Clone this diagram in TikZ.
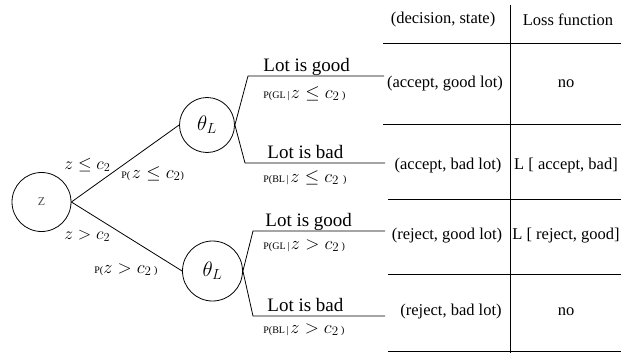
\RequirePackage{fix-cm}
\documentclass[tikz,border=0pt]{standalone}
\usepackage{fontspec}
\setmainfont{Liberation Serif}
\newcommand{\smallP}{\fontsize{10}{12}\selectfont}
\newcommand{\mthA}[1]{{\fontsize{18.5}{19}\selectfont$#1$}}
\newcommand{\mthB}[1]{{\fontsize{17.5}{18}\selectfont$#1$}}
\begin{document}
\begin{tikzpicture}[x=1pt,y=-1pt, line width=0.8pt,
  circ/.style={circle,draw,inner sep=0pt},
  lot/.style={font=\fontsize{19}{20}\selectfont, inner sep=0pt, anchor=base west},
  plab/.style={inner sep=0pt, anchor=base west},
  cell/.style={font=\fontsize{16.5}{18}\selectfont, inner sep=0pt},
  ]
\useasboundingbox (0,0) rectangle (621,353);

% tree nodes
\node[circ, minimum size=59pt, font=\fontsize{12}{12}\selectfont, text=black!70] (Z) at (41.5,202) {Z};
\node[circ, minimum size=55pt, font=\fontsize{21}{21}\selectfont] (T1) at (207,125) {$\theta_L$};
\node[circ, minimum size=60pt, font=\fontsize{21}{21}\selectfont] (T2) at (212.5,271) {$\theta_L$};

\draw (Z.east) -- (T1.west);
\draw (Z.east) -- (T2.west);

% edge labels
\node[plab] (e1) at (64,169) {\mthB{z\le c_2}};
\node[plab] (p1) at (121,178) {{\smallP P(}\,\mthA{z\le c_2}{\smallP )}};
\node[plab] (e2) at (64,239) {\mthB{z> c_2}};
\node[plab] (p2) at (94,273) {{\smallP P(}\mthA{z> c_2}{\smallP\ )}};

% branches
\coordinate (a1) at (248,76);  \coordinate (b1) at (384,76);
\coordinate (a2) at (245,163); \coordinate (b2) at (385,163);
\coordinate (a3) at (253,231); \coordinate (b3) at (385,231);
\coordinate (a4) at (253,316); \coordinate (b4) at (385,316);
\draw (T1.east) -- (a1) -- (b1);
\draw (T1.east) -- (a2) -- (b2);
\draw (T2.east) -- (a3) -- (b3);
\draw (T2.east) -- (a4) -- (b4);

\node[lot] (g1) at (263,71) {Lot is good};
\node[plab] (q1) at (263,98) {{\smallP P(GL\,|\,}\mthA{z\le c_2}{\smallP\ )}};
\node[lot] (d1) at (267,158) {Lot is bad};
\node[plab] (q2) at (263,182) {{\smallP P(BL\,|\,}\mthA{z\le c_2}{\smallP\ \,)}};
\node[lot] (g2) at (265,226) {Lot is good};
\node[plab] (q3) at (263,249) {{\smallP P(GL\,|\,}\mthA{z> c_2}{\smallP\ )}};
\node[lot] (d2) at (267,311) {Lot is bad};
\node[plab] (q4) at (263,333) {{\smallP P(BL\,|\,}\mthA{z> c_2}{\smallP\ )}};

% table
\coordinate (vt) at (510,5); \coordinate (vb) at (510,353);
\draw (vt) -- (vb);
\coordinate (h1l) at (383,43);  \coordinate (h1r) at (621,43);
\coordinate (h2l) at (383,124); \coordinate (h2r) at (621,124);
\coordinate (h3l) at (388,199); \coordinate (h3r) at (621,199);
\coordinate (h4l) at (388,274); \coordinate (h4r) at (621,274);
\coordinate (h5l) at (388,351); \coordinate (h5r) at (621,351);
\draw (h1l) -- (h1r);
\draw (h2l) -- (h2r);
\draw (h3l) -- (h3r);
\draw (h4l) -- (h4r);
\draw (h5l) -- (h5r);

\node[cell] (c00) at (443,20) {(decision, state)};
\node[cell] (c01) at (568,20) {Loss function};
\node[cell] (c10) at (445,84) {(accept, good lot)};
\node[cell] (c11) at (566,84) {no};
\node[cell] (c20) at (448,166) {(accept, bad lot)};
\node[cell] (c21) at (566,166) {L [ accept, bad]};
\node[cell] (c30) at (447,236) {(reject, good lot)};
\node[cell] (c31) at (566,236) {L [ reject, good]};
\node[cell] (c40) at (451,312) {(reject, bad lot)};
\node[cell] (c41) at (566,312) {no};
\end{tikzpicture}
\end{document}
